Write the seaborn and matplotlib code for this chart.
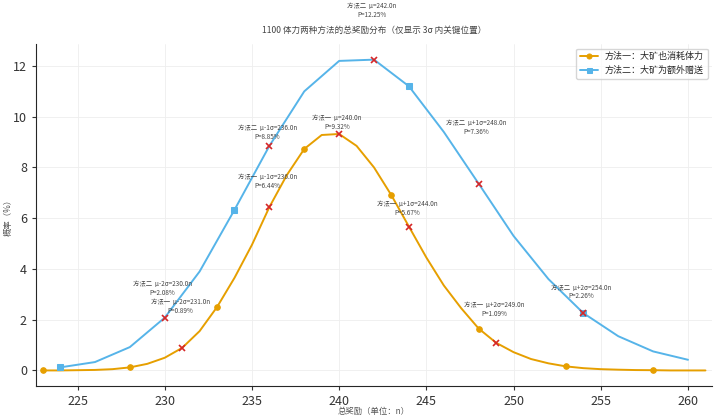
import matplotlib
matplotlib.use("Agg")
import matplotlib.pyplot as plt
import seaborn as sns

# 数据：总奖励 -> 概率(%)
x1 = list(range(223, 262))
p1 = [0.0, 0.0, 0.01, 0.02, 0.05, 0.12, 0.26, 0.5, 0.89, 1.55,
      2.5, 3.65, 4.95, 6.44, 7.7, 8.73, 9.28, 9.32, 8.85, 8.0,
      6.9, 5.67, 4.45, 3.35, 2.45, 1.65, 1.09, 0.72, 0.45, 0.28,
      0.16, 0.09, 0.05, 0.03, 0.015, 0.01, 0.0, 0.0, 0.0]
x2 = list(range(224, 261, 2))
p2 = [0.12, 0.33, 0.92, 2.08, 3.9, 6.33, 8.85, 11.0, 12.2, 12.25,
      11.2, 9.4, 7.36, 5.3, 3.6, 2.26, 1.35, 0.75, 0.42]

key_names = ["μ-2σ", "μ-1σ", "μ", "μ+1σ", "μ+2σ"]
key_x1 = [231, 236, 240, 244, 249]
key_x2 = [230, 236, 242, 248, 254]

name1 = "方法一：大矿也消耗体力"
name2 = "方法二：大矿为额外赠送"
short1 = "方法一"
short2 = "方法二"

# 标注文字相对点的上移量(像素)
off1 = [33, 17, 3, 10, 25]
off2 = [21, 5, 41, 48, 13]

sns.set_style("ticks")
plt.rcParams['font.family'] = ['Noto Sans CJK SC', 'DejaVu Sans']
plt.rcParams['axes.unicode_minus'] = False

fig = plt.figure(figsize=(7.2, 4.2), dpi=100)
ax = fig.add_axes([0.05, 0.081, 0.939, 0.814])

c1 = "#E69F00"
c2 = "#56B4E9"
sns.lineplot(x=x1, y=p1, ax=ax, color=c1, marker="o", markersize=4,
             markevery=5, markeredgecolor=c1, lw=1.4, label=name1)
sns.lineplot(x=x2, y=p2, ax=ax, color=c2, marker="s", markersize=4,
             markevery=5, markeredgecolor=c2, lw=1.4, label=name2)

px = 0.72  # 像素 -> 磅
for xs, ps, keys, offs, short in [(x1, p1, key_x1, off1, short1),
                                  (x2, p2, key_x2, off2, short2)]:
    for nm, kx, off in zip(key_names, keys, offs):
        py = ps[xs.index(kx)]
        ax.plot(kx, py, marker="x", color="#d62728", ms=5, mew=1.2, zorder=5)
        ax.annotate(short + "  " + nm + "=" + "{:.1f}n".format(kx) + "\n" + "P=" + "{:.2f}%".format(py),
                    xy=(kx, py), xytext=(-2 * px, off * px), textcoords="offset points",
                    ha="center", va="bottom", fontsize=4.6, color="#444444",
                    linespacing=1.1, annotation_clip=False)

ax.margins(x=0.01)
ax.set_yticks([0, 2, 4, 6, 8, 10, 12])
ax.set_xticks([225, 230, 235, 240, 245, 250, 255, 260])
ax.tick_params(labelsize=9, colors="#333333", length=3)
ax.grid(True, color="#eeeeee", lw=0.6)
ax.set_axisbelow(True)
sns.despine(ax=ax)
ax.set_xlabel("总奖励（单位：n）", fontsize=6, color="#555555")
ax.set_ylabel("概率（%）", fontsize=6, color="#555555")
ax.xaxis.set_label_coords(0.5, -0.061)
ax.yaxis.set_label_coords(-0.035, 0.5)
ax.set_title("1100 体力两种方法的总奖励分布（仅显示 3σ 内关键位置）", fontsize=6.2, color="#444444", pad=8)
ax.legend(loc="upper right", fontsize=6.5, frameon=True, markerscale=0.9)

fig.savefig("out.png", dpi=100)
